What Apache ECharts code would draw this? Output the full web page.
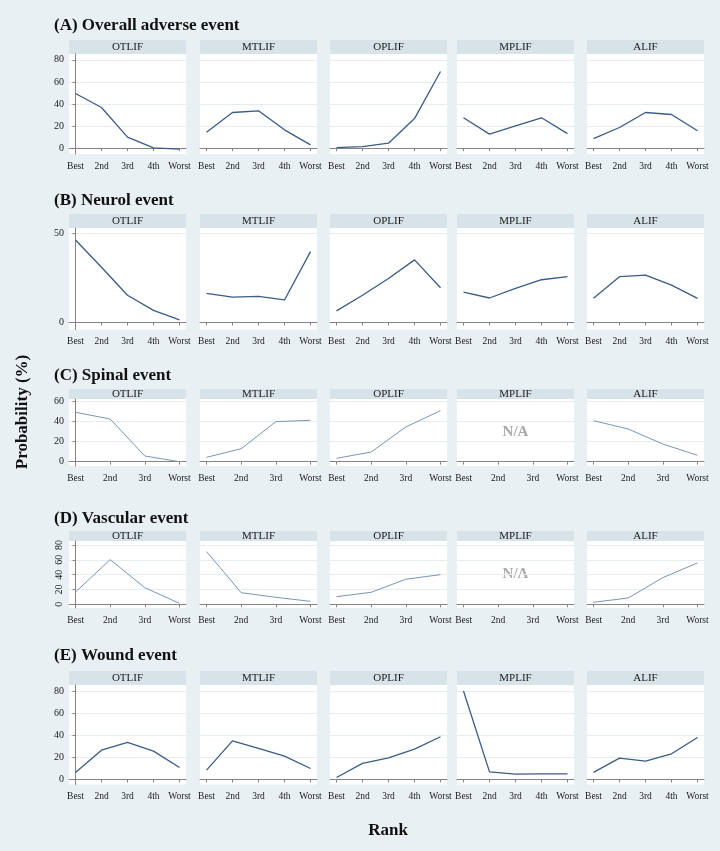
<!DOCTYPE html>
<html><head><meta charset="utf-8">
<script src="https://cdn.jsdelivr.net/npm/echarts@6/dist/echarts.min.js"></script>
<style>html,body{margin:0;padding:0;background:#e9f0f3}#c{width:720px;height:851px}</style>
</head><body><div id="c"></div><script>
// ---- categories / labels ----
const ranks5 = ['Best', '2nd', '3rd', '4th', 'Worst'];
const ranks4 = ['Best', '2nd', '3rd', 'Worst'];
const procedures = ['OTLIF', 'MTLIF', 'OPLIF', 'MPLIF', 'ALIF'];
const rowTitles = ['(A) Overall adverse event', '(B) Neurol event', '(C) Spinal event', '(D) Vascular event', '(E) Wound event'];
const yTicksA = [0, 20, 40, 60, 80];
const yTicksB = [0, 50];
const yTicksC = [0, 20, 40, 60];
const yTicksD = [0, 20, 40, 60, 80];
const yTicksE = [0, 20, 40, 60, 80];

// ---- (A) Overall adverse event ----
const overallOTLIF = [49.5, 36.8, 10.0, 0.3, -0.8];
const overallMTLIF = [14.5, 32.3, 33.8, 16.6, 3.0];
const overallOPLIF = [0.5, 1.4, 4.5, 26.8, 69.4];
const overallMPLIF = [27.5, 12.7, 20.2, 27.5, 13.2];
const overallALIF = [8.7, 18.7, 32.3, 30.5, 15.7];
// ---- (B) Neurol event ----
const neurolOTLIF = [46.1, 30.9, 15.2, 6.8, 1.5];
const neurolMTLIF = [16.3, 14.2, 14.6, 12.6, 39.6];
const neurolOPLIF = [6.5, 15.2, 24.6, 35.0, 19.4];
const neurolMPLIF = [17.0, 13.7, 19.1, 23.9, 25.6];
const neurolALIF = [13.5, 25.6, 26.5, 20.9, 13.5];
// ---- (C) Spinal event ----
const spinalOTLIF = [49.4, 42.7, 5.7, 0.0];
const spinalMTLIF = [4.4, 13.0, 40.0, 41.4];
const spinalOPLIF = [3.4, 9.7, 34.7, 51.0];
const spinalMPLIF = null; // N/A
const spinalALIF = [41.0, 32.7, 17.7, 6.4];
// ---- (D) Vascular event ----
const vascularOTLIF = [16.6, 60.3, 22.4, 1.3];
const vascularMTLIF = [71.1, 15.7, 9.4, 4.0];
const vascularOPLIF = [10.3, 16.2, 33.8, 40.0];
const vascularMPLIF = null; // N/A
const vascularALIF = [2.7, 8.5, 35.9, 55.8];
// ---- (E) Wound event ----
const woundOTLIF = [6.4, 26.7, 33.8, 25.8, 10.9];
const woundMTLIF = [8.5, 35.2, 28.3, 21.3, 10.0];
const woundOPLIF = [1.8, 14.6, 19.7, 27.6, 38.9];
const woundMPLIF = [80.6, 6.9, 4.8, 5.1, 5.1];
const woundALIF = [6.4, 19.5, 16.7, 23.4, 38.3];

// ---- layout (not data) ----
const panelLeft = [69, 200, 330, 457, 587];
const panelW = 117;
const SERIF = '"Liberation Serif","DejaVu Serif",serif';
const rows = [
  {titleY: 26, stripTop: 40, plotTop: 54, plotBottom: 154, yMin: -5.3, yMax: 85.3, ticks: yTicksA, cats: ranks5,
   data: [overallOTLIF, overallMTLIF, overallOPLIF, overallMPLIF, overallALIF], thin: false, rot: 0},
  {titleY: 201, stripTop: 214, plotTop: 228, plotBottom: 329.5, yMin: -3.9, yMax: 52.8, ticks: yTicksB, cats: ranks5,
   data: [neurolOTLIF, neurolMTLIF, neurolOPLIF, neurolMPLIF, neurolALIF], thin: false, rot: 0},
  {titleY: 376, stripTop: 389, plotTop: 399, plotBottom: 466, yMin: -4.3, yMax: 62.7, ticks: yTicksC, cats: ranks4,
   data: [spinalOTLIF, spinalMTLIF, spinalOPLIF, spinalMPLIF, spinalALIF], thin: true, rot: 0},
  {titleY: 519, stripTop: 531, plotTop: 541, plotBottom: 608, yMin: -5, yMax: 85.4, ticks: yTicksD, cats: ranks4,
   data: [vascularOTLIF, vascularMTLIF, vascularOPLIF, vascularMPLIF, vascularALIF], thin: true, rot: 90},
  {titleY: 656, stripTop: 671, plotTop: 685, plotBottom: 784.5, yMin: -4.6, yMax: 86.1, ticks: yTicksE, cats: ranks5,
   data: [woundOTLIF, woundMTLIF, woundOPLIF, woundMPLIF, woundALIF], thin: false, rot: 0}
];

const grids = [], xAxes = [], yAxes = [], series = [], graphics = [];
rows.forEach((r, ri) => {
  graphics.push({type: 'text', x: 54, y: r.titleY, style: {text: rowTitles[ri], fill: '#111',
    fontFamily: SERIF, fontWeight: 'bold', fontSize: 17, align: 'left', verticalAlign: 'middle'}});
  const n = r.cats.length;
  const pad = n === 5 ? 0.25 : 0.19;
  procedures.forEach((p, pi) => {
    const idx = grids.length;
    const left = panelLeft[pi];
    grids.push({left: left, top: r.plotTop, width: panelW, height: r.plotBottom - r.plotTop,
      show: true, backgroundColor: '#ffffff', borderWidth: 0});
    graphics.push({type: 'rect', shape: {x: left, y: r.stripTop, width: panelW, height: r.plotTop - r.stripTop},
      style: {fill: '#d7e2e9'}});
    graphics.push({type: 'text', x: left + panelW / 2, y: (r.stripTop + r.plotTop) / 2 + 0.5,
      style: {text: p, fill: '#1a1a1a', fontFamily: SERIF, fontSize: 11, align: 'center', verticalAlign: 'middle'}});
    const cats = r.cats;
    const idxs = cats.map((c, i) => i);
    xAxes.push({gridIndex: idx, type: 'value', min: -pad, max: n - 1 + pad,
      axisLine: {show: true, lineStyle: {color: '#858585', width: 1}},
      axisTick: {show: true, length: 3, customValues: idxs, lineStyle: {color: '#858585'}},
      axisLabel: {show: true, customValues: idxs, formatter: v => cats[Math.round(v)], margin: 7,
        fontFamily: SERIF, fontSize: 9.5, color: '#1a1a1a'},
      splitLine: {show: false}});
    const first = pi === 0;
    yAxes.push({gridIndex: idx, type: 'value', min: r.yMin, max: r.yMax,
      axisLine: {show: first, lineStyle: {color: '#858585', width: 1}},
      axisTick: {show: first, length: 3, customValues: r.ticks, lineStyle: {color: '#858585'}},
      axisLabel: {show: first, customValues: r.ticks, margin: 5, rotate: r.rot,
        fontFamily: SERIF, fontSize: 10, color: '#1a1a1a'},
      splitLine: {show: true, lineStyle: {color: '#e6edf1', width: 1}}});
    const vals = r.data[pi];
    if (vals) {
      series.push({type: 'line', xAxisIndex: idx, yAxisIndex: idx, symbol: 'none', clip: false,
        data: vals.map((v, i) => [i, v]),
        lineStyle: {color: r.thin ? '#7c95b7' : '#3c5c86', width: r.thin ? 1 : 1.3}});
    } else {
      graphics.push({type: 'text', x: left + panelW / 2, y: (r.plotTop + r.plotBottom) / 2,
        style: {text: 'N/A', fill: '#aaaaaa', fontFamily: SERIF, fontWeight: 'bold', fontSize: 15,
          align: 'center', verticalAlign: 'middle'}});
    }
  });
});
graphics.push({type: 'text', x: 23, y: 412, rotation: Math.PI / 2,
  style: {text: 'Probability (%)', fill: '#111', fontFamily: SERIF, fontWeight: 'bold', fontSize: 17,
    align: 'center', verticalAlign: 'middle'}});
graphics.push({type: 'text', x: 388, y: 831,
  style: {text: 'Rank', fill: '#111', fontFamily: SERIF, fontWeight: 'bold', fontSize: 17,
    align: 'center', verticalAlign: 'middle'}});

const chart = echarts.init(document.getElementById('c'), null, {renderer: 'canvas'});
chart.setOption({
  backgroundColor: '#e9f0f3',
  animation: false,
  grid: grids, xAxis: xAxes, yAxis: yAxes, series: series,
  graphic: graphics
});
</script></body></html>
